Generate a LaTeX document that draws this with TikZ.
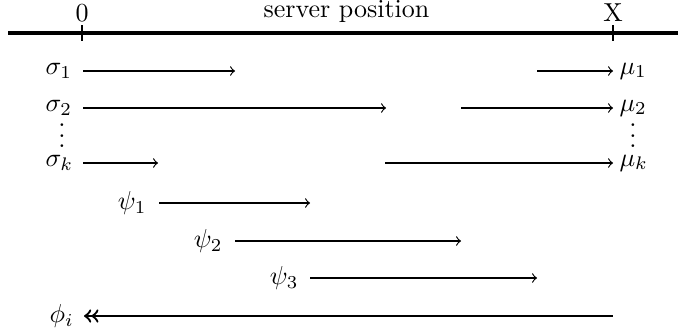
\documentclass[tikz,border=0pt]{standalone}
\usetikzlibrary{arrows}
\tikzset{
  axisline/.style={line width=1.2pt},
  tickline/.style={line width=0.8pt},
  flow/.style={->, line width=0.45pt},
  back/.style={<<-, line width=0.9pt},
  lbl/.style={inner sep=0pt},
}
\newcommand{\mydots}{\vbox{\baselineskip=4pt\lineskiplimit=0pt\hbox{.}\hbox{.}\hbox{.}}}
\begin{document}
\begin{tikzpicture}[x=0.3846pt,y=-0.3846pt]
\useasboundingbox (0,0) rectangle (678,335);
% axis
\coordinate (axL) at (8,33);
\coordinate (axR) at (678,33);
\draw[axisline] (axL) -- (axR);
\coordinate (t0a) at (82,25); \coordinate (t0b) at (82,41);
\coordinate (tXa) at (613,25); \coordinate (tXb) at (613,41);
\draw[tickline] (t0a) -- (t0b);
\draw[tickline] (tXa) -- (tXb);
\node[lbl,anchor=base] (zero) at (82,21) {0};
\node[lbl,anchor=base] (xmax) at (613,21) {X};
\node[lbl,anchor=base] (title) at (346.5,17) {server position};
% sigma / mu rows
\node[lbl,anchor=west] (s1) at (45,71) {$\sigma_1$};
\node[lbl,anchor=west] (s2) at (45,108) {$\sigma_2$};
\node[lbl,anchor=west] (sk) at (45,163) {$\sigma_k$};
\node[lbl,anchor=west] (m1) at (619,71) {$\mu_1$};
\node[lbl,anchor=west] (m2) at (619,108) {$\mu_2$};
\node[lbl,anchor=west] (mk) at (619,163) {$\mu_k$};
\node[lbl,anchor=base] (ldots) at (62,147.5) {\mydots};
\node[lbl,anchor=base] (rdots) at (633,147.5) {\mydots};
\coordinate (s1a) at (83,71);  \coordinate (s1b) at (235,71);
\coordinate (m1a) at (537,71); \coordinate (m1b) at (613,71);
\coordinate (s2a) at (83,108); \coordinate (s2b) at (386,108);
\coordinate (m2a) at (461,108); \coordinate (m2b) at (613,108);
\coordinate (ska) at (83,163); \coordinate (skb) at (158,163);
\coordinate (mka) at (385,163); \coordinate (mkb) at (613,163);
\draw[flow] (s1a) -- (s1b);
\draw[flow] (m1a) -- (m1b);
\draw[flow] (s2a) -- (s2b);
\draw[flow] (m2a) -- (m2b);
\draw[flow] (ska) -- (skb);
\draw[flow] (mka) -- (mkb);
% psi rows
\node[lbl,anchor=east] (p1) at (147,203) {$\psi_1$};
\node[lbl,anchor=east] (p2) at (223,241) {$\psi_2$};
\node[lbl,anchor=east] (p3) at (299,278) {$\psi_3$};
\coordinate (p1a) at (159,203); \coordinate (p1b) at (310,203);
\coordinate (p2a) at (235,241); \coordinate (p2b) at (461,241);
\coordinate (p3a) at (310,278); \coordinate (p3b) at (537,278);
\draw[flow] (p1a) -- (p1b);
\draw[flow] (p2a) -- (p2b);
\draw[flow] (p3a) -- (p3b);
% phi row
\node[lbl,anchor=west] (phi) at (49,316) {$\phi_i$};
\coordinate (phia) at (84,316); \coordinate (phib) at (613,316);
\draw[back] (phia) -- (phib);
\end{tikzpicture}
\end{document}
